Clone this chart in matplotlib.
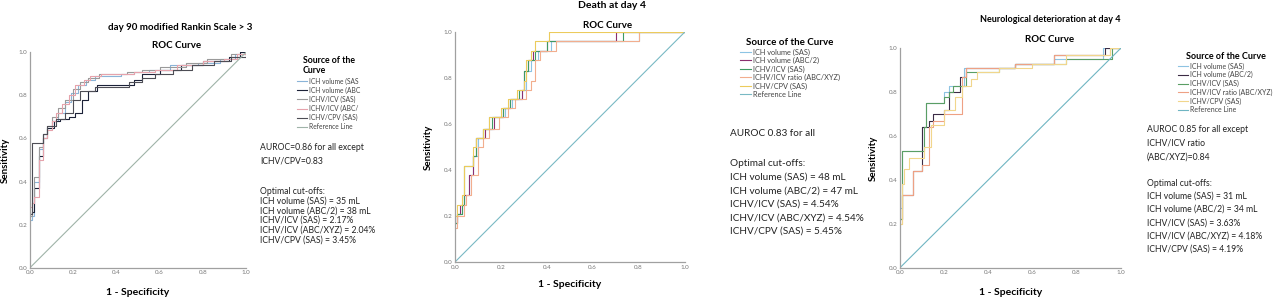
import matplotlib
matplotlib.use("Agg")
import matplotlib.pyplot as plt

plt.rcParams['font.family'] = ['Lato', 'DejaVu Sans']

W, H = 1280, 297

# ---- panel 1: day 90 mRS > 3 ----
p1_labels = ["ICH volume (SAS", "ICH volume (ABC", "ICHV/ICV (SAS)",
             "ICHV/ICV (ABC/", "ICHV/CPV (SAS)"]
p1_colors = ["#8ab4d8", "#1c2238", "#9a9a9a", "#e6a3ac", "#4d4d55"]
p1_ref_color = "#9fb3a8"
p1_fpr = [
    [0, 0.01, 0.02, 0.04, 0.06, 0.08, 0.10, 0.13, 0.16, 0.19, 0.22, 0.26, 0.30, 0.42, 0.48, 0.55, 0.65, 0.78, 0.88, 0.95, 1.0],
    [0, 0.01, 0.02, 0.04, 0.06, 0.08, 0.11, 0.14, 0.18, 0.21, 0.24, 0.27, 0.31, 0.48, 0.52, 0.60, 0.70, 0.80, 0.92, 0.97, 1.0],
    [0, 0.01, 0.02, 0.04, 0.06, 0.08, 0.10, 0.13, 0.16, 0.20, 0.23, 0.27, 0.32, 0.45, 0.52, 0.60, 0.72, 0.82, 0.93, 1.0],
    [0, 0.01, 0.02, 0.04, 0.06, 0.08, 0.10, 0.12, 0.15, 0.18, 0.21, 0.25, 0.28, 0.33, 0.48, 0.58, 0.68, 0.80, 0.90, 0.96, 1.0],
    [0, 0.01, 0.06, 0.08, 0.12, 0.16, 0.20, 0.23, 0.30, 0.46, 0.52, 0.58, 0.66, 0.75, 0.85, 0.93, 1.0],
]
p1_tpr = [
    [0.22, 0.24, 0.40, 0.55, 0.62, 0.65, 0.68, 0.72, 0.77, 0.81, 0.85, 0.87, 0.89, 0.90, 0.91, 0.92, 0.94, 0.95, 0.97, 0.99, 1.0],
    [0.25, 0.26, 0.37, 0.52, 0.60, 0.65, 0.68, 0.69, 0.70, 0.72, 0.78, 0.82, 0.85, 0.87, 0.90, 0.92, 0.94, 0.96, 0.98, 1.0, 1.0],
    [0.24, 0.30, 0.42, 0.56, 0.62, 0.66, 0.70, 0.74, 0.78, 0.83, 0.86, 0.88, 0.90, 0.91, 0.92, 0.93, 0.95, 0.97, 0.99, 1.0],
    [0.28, 0.30, 0.33, 0.50, 0.60, 0.64, 0.68, 0.72, 0.76, 0.80, 0.85, 0.87, 0.89, 0.90, 0.91, 0.92, 0.94, 0.96, 0.97, 0.99, 1.0],
    [0.25, 0.58, 0.62, 0.66, 0.69, 0.72, 0.78, 0.82, 0.84, 0.86, 0.88, 0.90, 0.92, 0.94, 0.96, 0.98, 1.0],
]
p1_title = "day 90 modified Rankin Scale > 3"
p1_notes = ["AUROC=0.86 for all except", "ICHV/CPV=0.83"]
p1_cutoffs = ["Optimal cut-offs:", "ICH volume (SAS) = 35 mL", "ICH volume (ABC/2) = 38 mL",
              "ICHV/ICV (SAS) = 2.17%", "ICHV/ICV (ABC/XYZ) = 2.04%", "ICHV/CPV (SAS) = 3.45%"]

# ---- panel 2: death at day 4 ----
p2_labels = ["ICH volume (SAS)", "ICH volume (ABC/2)", "ICHV/ICV (SAS)",
             "ICHV/ICV ratio (ABC/XYZ)", "ICHV/CPV (SAS)"]
p2_colors = ["#8cc4e4", "#8b2f6f", "#3f9a63", "#f2ae8e", "#eccb5c"]
p2_ref_color = "#79b9c4"
p2_fpr = [
    [0, 0.01, 0.03, 0.04, 0.06, 0.08, 0.10, 0.12, 0.15, 0.22, 0.25, 0.29, 0.31, 0.33, 0.36, 0.42, 0.80, 1.0],
    [0, 0.01, 0.02, 0.04, 0.06, 0.08, 0.09, 0.13, 0.17, 0.21, 0.24, 0.29, 0.30, 0.32, 0.34, 0.40, 0.70, 1.0],
    [0, 0.01, 0.03, 0.04, 0.08, 0.09, 0.12, 0.16, 0.21, 0.24, 0.28, 0.30, 0.32, 0.35, 0.40, 0.73, 1.0],
    [0, 0.01, 0.04, 0.05, 0.07, 0.10, 0.12, 0.15, 0.19, 0.23, 0.26, 0.31, 0.33, 0.35, 0.37, 0.44, 0.80, 1.0],
    [0, 0.01, 0.03, 0.04, 0.08, 0.09, 0.12, 0.15, 0.20, 0.23, 0.27, 0.30, 0.31, 0.33, 0.35, 0.41, 1.0],
]
p2_tpr = [
    [0.17, 0.21, 0.25, 0.29, 0.38, 0.46, 0.54, 0.58, 0.63, 0.67, 0.71, 0.75, 0.83, 0.88, 0.92, 0.96, 1.0, 1.0],
    [0.17, 0.21, 0.25, 0.29, 0.38, 0.46, 0.54, 0.58, 0.63, 0.67, 0.71, 0.75, 0.83, 0.88, 0.92, 0.96, 1.0, 1.0],
    [0.17, 0.21, 0.25, 0.42, 0.46, 0.54, 0.58, 0.63, 0.67, 0.71, 0.75, 0.83, 0.88, 0.92, 0.96, 1.0, 1.0],
    [0.15, 0.20, 0.25, 0.29, 0.38, 0.50, 0.54, 0.58, 0.63, 0.67, 0.71, 0.75, 0.79, 0.88, 0.92, 0.96, 1.0, 1.0],
    [0.20, 0.25, 0.29, 0.42, 0.50, 0.54, 0.58, 0.63, 0.67, 0.71, 0.75, 0.79, 0.88, 0.92, 0.96, 1.0, 1.0],
]
p2_title = "Death at day 4"
p2_notes = ["AUROC 0.83 for all"]
p2_cutoffs = ["Optimal cut-offs:", "ICH volume (SAS) = 48 mL", "ICH volume (ABC/2) = 47 mL",
              "ICHV/ICV (SAS) = 4.54%", "ICHV/ICV (ABC/XYZ) = 4.54%", "ICHV/CPV (SAS) = 5.45%"]

# ---- panel 3: neurological deterioration at day 4 ----
p3_labels = ["ICH volume (SAS)", "ICH volume (ABC/2)", "ICHV/ICV (SAS)",
             "ICHV/ICV ratio (ABC/XYZ)", "ICHV/CPV (SAS)"]
p3_colors = ["#8ec3e2", "#3b2b45", "#5a9e64", "#eea184", "#f1d68c"]
p3_ref_color = "#6fb5c2"
p3_fpr = [
    [0, 0.01, 0.10, 0.12, 0.20, 0.22, 0.29, 0.45, 0.52, 0.70, 0.92, 1.0],
    [0, 0.01, 0.06, 0.10, 0.13, 0.15, 0.20, 0.22, 0.27, 0.30, 0.52, 0.70, 0.93, 1.0],
    [0, 0.01, 0.11, 0.12, 0.20, 0.22, 0.24, 0.30, 0.45, 0.52, 0.75, 0.96, 1.0],
    [0, 0.01, 0.06, 0.10, 0.13, 0.15, 0.20, 0.27, 0.28, 0.30, 0.52, 0.70, 0.95, 1.0],
    [0, 0.01, 0.02, 0.04, 0.11, 0.14, 0.20, 0.25, 0.28, 0.32, 0.35, 0.45, 0.60, 0.75, 0.95, 1.0],
]
p3_tpr = [
    [0.27, 0.53, 0.64, 0.75, 0.80, 0.83, 0.91, 0.91, 0.93, 0.95, 1.0, 1.0],
    [0.22, 0.33, 0.44, 0.64, 0.67, 0.70, 0.72, 0.80, 0.87, 0.91, 0.93, 0.97, 1.0, 1.0],
    [0.22, 0.53, 0.64, 0.75, 0.78, 0.80, 0.83, 0.89, 0.91, 0.93, 0.95, 1.0, 1.0],
    [0.20, 0.33, 0.44, 0.47, 0.64, 0.67, 0.70, 0.70, 0.87, 0.91, 0.93, 0.97, 1.0, 1.0],
    [0.20, 0.38, 0.45, 0.50, 0.55, 0.65, 0.72, 0.78, 0.83, 0.86, 0.89, 0.91, 0.93, 0.97, 1.0, 1.0],
]
p3_title = "Neurological deterioration at day 4"
p3_notes = ["AUROC 0.85 for all except", "ICHV/ICV ratio", "(ABC/XYZ)=0.84"]
p3_cutoffs = ["Optimal cut-offs:", "ICH volume (SAS) = 31 mL", "ICH volume (ABC/2) = 34 mL",
              "ICHV/ICV (SAS) = 3.63%", "ICHV/ICV (ABC/XYZ) = 4.18%", "ICHV/CPV (SAS) = 4.19%"]

ticks = [0.0, 0.2, 0.4, 0.6, 0.8, 1.0]


def fx(px):
    return px / W


def fy(py):
    return 1 - py / H


def px_axes(fig, left, top, right, bottom):
    return fig.add_axes([fx(left), fy(bottom), (right - left) / W, (bottom - top) / H])


def draw_panel(ax, fprs, tprs, colors, ref_color, ylab_x, xlab_y):
    for f, t, c in zip(fprs, tprs, colors):
        ax.step(f, t, where='post', color=c, lw=0.8)
    ax.plot([0, 1], [0, 1], color=ref_color, lw=0.8)
    ax.set_xlim(0, 1)
    ax.set_ylim(0, 1)
    ax.set_xticks(ticks)
    ax.set_yticks(ticks)
    ax.set_xticklabels(["%.1f" % t for t in ticks])
    ax.set_yticklabels(["%.1f" % t for t in ticks])
    ax.tick_params(length=0, labelsize=4.5, labelcolor="#777777", pad=2)
    for s in ["top", "right"]:
        ax.spines[s].set_visible(False)
    for s in ["left", "bottom"]:
        ax.spines[s].set_color("#a0a0a0")
        ax.spines[s].set_linewidth(0.9)
    ax.set_xlabel("1 - Specificity", fontsize=7.5, fontweight='bold')
    ax.set_ylabel("Sensitivity", fontsize=7, fontweight='bold')
    ax.xaxis.set_label_coords(0.5, xlab_y)
    ax.xaxis.label.set_va('center')
    ax.yaxis.set_label_coords(ylab_x, 0.5)
    ax.yaxis.label.set_va('center')


def add_legend(fig, ax, labels, x, y, title, fs, tfs, spacing):
    handles = ax.get_lines()
    leg = fig.legend(handles, labels + ["Reference Line"], loc='upper left',
                     bbox_to_anchor=(fx(x), fy(y)), frameon=False, fontsize=fs,
                     title=title, title_fontsize=tfs, handlelength=1.5,
                     handletextpad=0.3, labelspacing=spacing, borderpad=0,
                     borderaxespad=0)
    leg.get_title().set_fontweight('bold')
    for t in leg.get_texts():
        t.set_color("#444444")


def add_lines(fig, lines, x, y0, step, fs):
    for i, s in enumerate(lines):
        fig.text(fx(x), fy(y0 + i * step), s, fontsize=fs, va='center', ha='left', color="#222222")


fig = plt.figure(figsize=(W / 100, H / 100), dpi=100)

ax1 = px_axes(fig, 30, 52.3, 246, 267.7)
draw_panel(ax1, p1_fpr, p1_tpr, p1_colors, p1_ref_color, -0.116, -0.113)
fig.text(fx(180), fy(27), p1_title, fontsize=7, fontweight='bold', ha='center', va='center')
fig.text(fx(177), fy(46), "ROC Curve", fontsize=7, fontweight='bold', ha='center', va='center')
add_legend(fig, ax1, p1_labels, 297, 56, "Source of the\nCurve", 4.8, 6.3, 0.3)
add_lines(fig, p1_notes, 260, 147, 14, 6.2)
add_lines(fig, p1_cutoffs, 260, 191, 9.8, 6.2)

ax2 = px_axes(fig, 455, 32.3, 684.5, 262)
draw_panel(ax2, p2_fpr, p2_tpr, p2_colors, p2_ref_color, -0.118, -0.1)
fig.text(fx(612), fy(6), p2_title, fontsize=7.5, fontweight='bold', ha='center', va='center')
fig.text(fx(608), fy(25), "ROC Curve", fontsize=7, fontweight='bold', ha='center', va='center')
add_legend(fig, ax2, p2_labels, 740, 38, "Source of the Curve", 5.3, 7, 0.18)
add_lines(fig, p2_notes, 730, 133, 13, 7.2)
add_lines(fig, p2_cutoffs, 730, 164, 13.4, 7.2)

ax3 = px_axes(fig, 900, 48.3, 1120.7, 267.7)
draw_panel(ax3, p3_fpr, p3_tpr, p3_colors, p3_ref_color, -0.122, -0.111)
fig.text(fx(1050), fy(20), p3_title, fontsize=6.5, fontweight='bold', ha='center', va='center')
fig.text(fx(1050), fy(40), "ROC Curve", fontsize=7, fontweight='bold', ha='center', va='center')
add_legend(fig, ax3, p3_labels, 1178, 52, "Source of the Curve", 5.0, 6.5, 0.22)
add_lines(fig, p3_notes, 1147, 130, 13.5, 6.2)
add_lines(fig, p3_cutoffs, 1147, 183, 13.2, 6.2)

fig.savefig("out.png", dpi=100)
